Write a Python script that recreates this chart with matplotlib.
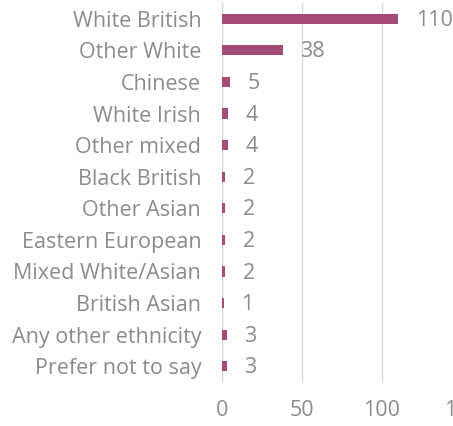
import matplotlib.pyplot as plt

categories = ["White British", "Other White", "Chinese", "White Irish", "Other mixed",
              "Black British", "Other Asian", "Eastern European", "Mixed White/Asian",
              "British Asian", "Any other ethnicity", "Prefer not to say"]
counts = [110, 38, 5, 4, 4, 2, 2, 2, 2, 1, 3, 3]
xticks = [0, 50, 100, 150]

plt.rcParams['font.family'] = ['Open Sans', 'DejaVu Sans']
grey = "#8C8C8C"
bar_col = "#A54A76"

fig = plt.figure(figsize=(4.53, 4.26), dpi=100)
ax = fig.add_axes([222 / 453, 44 / 426, 240 / 453, 379 / 426])

pos = list(range(len(categories)))
ax.barh(pos, counts, height=0.32, color=bar_col, zorder=3)
for p, v in zip(pos, counts):
    ax.text(v + 11, p + 0.05, str(v), va="center", ha="left", fontsize=15.5, color=grey)

ax.set_ylim(len(categories) - 0.5, -0.5)
ax.set_xlim(0, 150)
ax.set_yticks(pos)
ax.set_yticklabels(categories, fontsize=15.5, color=grey)
ax.set_xticks(xticks)
ax.set_xticklabels([str(t) for t in xticks], fontsize=15.5, color=grey)
ax.tick_params(length=0, pad=13, axis="x")
ax.tick_params(length=0, pad=15, axis="y")
ax.grid(axis="x", color="#D9D9D9", linewidth=1, zorder=0)
for s in ["top", "right", "bottom"]:
    ax.spines[s].set_visible(False)
ax.spines["left"].set_color("#D9D9D9")

fig.savefig("out.png", dpi=100)
